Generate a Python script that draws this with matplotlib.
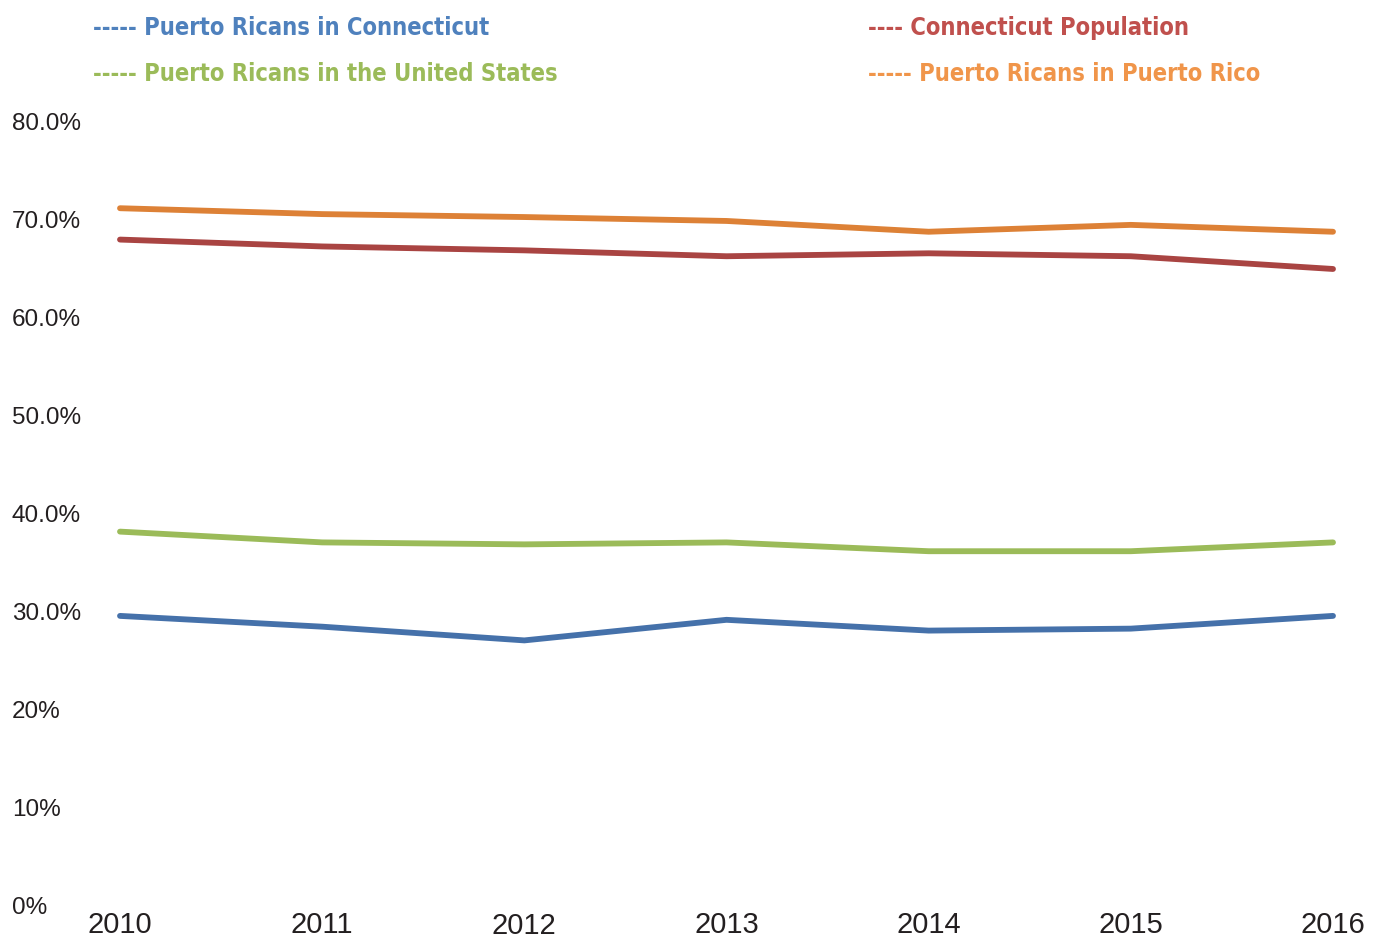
import matplotlib
matplotlib.use('Agg')
import matplotlib.pyplot as plt
import matplotlib.transforms as mtransforms

# 데이터
years = [2010, 2011, 2012, 2013, 2014, 2015, 2016]
pr_ct = [29.5, 28.4, 27.0, 29.1, 28.0, 28.2, 29.5]
ct_pop = [67.9, 67.2, 66.8, 66.2, 66.5, 66.2, 64.9]
pr_us = [38.1, 37.0, 36.8, 37.0, 36.1, 36.1, 37.0]
pr_pr = [71.1, 70.5, 70.2, 69.8, 68.7, 69.4, 68.7]

ytick_vals = [0, 10, 20, 30, 40, 50, 60, 70, 80]
ytick_labels = ['0%', '10%', '20%', '30.0%', '40.0%', '50.0%', '60.0%', '70.0%', '80.0%']

legend_labels = ['----- Puerto Ricans in Connecticut', '---- Connecticut Population',
                 '----- Puerto Ricans in the United States', '----- Puerto Ricans in Puerto Rico']

line_colors = ['#4571AA', '#A94442', '#9BBB59', '#DD8136']
text_colors = ['#4F81BD', '#C0504D', '#9BBB59', '#F0954A']

W, H = 1382, 939
fig = plt.figure(figsize=(W / 100, H / 100), dpi=100)

# 축 위치 (픽셀 기준)
ax_l, ax_r = 100, 1360
ax_b, ax_t = 905, 121
ax = fig.add_axes([ax_l / W, 1 - ax_b / H, (ax_r - ax_l) / W, (ax_b - ax_t) / H])

for vals, c in zip([pr_pr, ct_pop, pr_us, pr_ct], [line_colors[3], line_colors[1], line_colors[2], line_colors[0]]):
    ax.plot(years, vals, color=c, lw=4.2, solid_capstyle='round', solid_joinstyle='round')

px_per_year = (1333 - 120) / 6
ax.set_xlim(2010 - (120 - ax_l) / px_per_year, 2016 + (ax_r - 1333) / px_per_year)
ax.set_ylim(0, 80)

for s in ax.spines.values():
    s.set_visible(False)

ax.set_yticks(ytick_vals)
ax.set_yticklabels(ytick_labels, family=['Liberation Sans', 'DejaVu Sans'],
                   fontsize=17.5, color='#231F20', ha='left')
ax.tick_params(axis='y', length=0, pad=(ax_l - 12) * 0.72)

ax.set_xticks(years)
xlabels = ax.set_xticklabels([str(y) for y in years], family=['Liberation Sans', 'DejaVu Sans'],
                             fontsize=21, color='#231F20')
ax.tick_params(axis='x', length=0, pad=4)
# 2012 라벨이 살짝 아래로 내려가 있음
shift = mtransforms.ScaledTranslation(0, -1.5 / 100, fig.dpi_scale_trans)
xlabels[2].set_transform(xlabels[2].get_transform() + shift)

# 범례 텍스트
leg_pos = [(93, 35), (868, 35), (93, 81), (868, 81)]
for (x, y), lab, c in zip(leg_pos, legend_labels, text_colors):
    fig.text(x / W, 1 - y / H, lab, color=c, fontsize=17, fontweight='bold',
             fontstretch='condensed', family=['DejaVu Sans'], va='baseline', ha='left')

fig.savefig('out.png', dpi=100)
